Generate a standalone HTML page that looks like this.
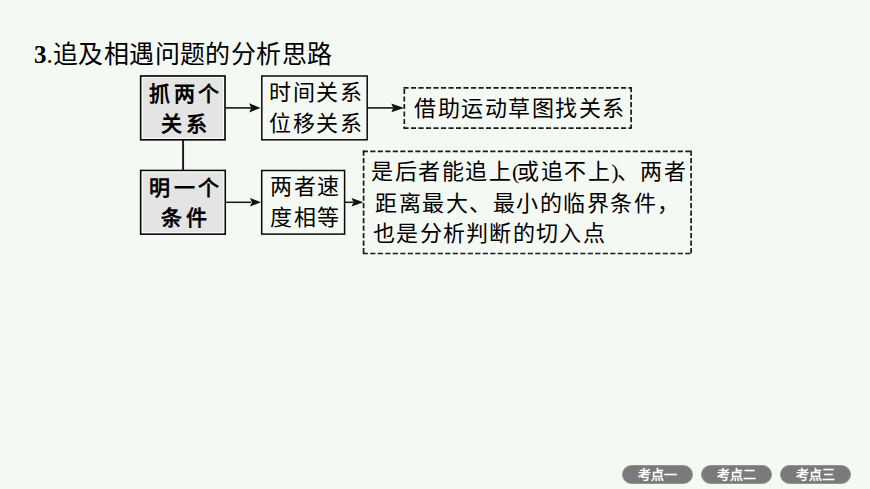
<!DOCTYPE html>
<html lang="zh-CN">
<head>
<meta charset="utf-8">
<style>
html,body{margin:0;padding:0;}
body{width:870px;height:489px;overflow:hidden;background:#f5f9f4;position:relative;font-family:"Liberation Sans",sans-serif;color:#000;}
.abs{position:absolute;white-space:nowrap;}
.title{left:34px;top:37px;font-size:25px;line-height:34px;letter-spacing:0.45px;}
.title b{font-family:"Liberation Serif",serif;font-weight:bold;font-size:25px;letter-spacing:0;position:relative;top:-0.5px;}
.title .dot{font-family:"Liberation Serif",serif;font-size:25px;letter-spacing:0;}
.txt{position:absolute;white-space:nowrap;font-size:22px;line-height:30px;letter-spacing:1.5px;}
.bold{font-weight:bold;font-size:21px;letter-spacing:3.5px;}
.paren{font-family:"Liberation Serif",serif;letter-spacing:-2px;}
.pill{position:absolute;top:464.5px;width:71px;height:19px;box-sizing:border-box;border-radius:9.5px;background:#7a7a7a;border:1px solid #939393;color:#fff;font-weight:bold;font-size:13px;line-height:17px;text-align:center;}
svg{position:absolute;left:0;top:0;}
</style>
</head>
<body>
<svg width="870" height="489">
  <g stroke="#0a0a0a" stroke-width="1.7">
    <rect x="140.7" y="76" width="84.3" height="63.8" fill="#e4e4e4"/>
    <rect x="261.8" y="76" width="105.4" height="63.8" fill="none" stroke-width="1.5"/>
    <rect x="140.7" y="170.5" width="84.5" height="63.6" fill="#e4e4e4"/>
    <rect x="261.7" y="170.5" width="82.9" height="63.6" fill="none" stroke-width="1.5"/>
  </g>
  <g stroke="#fafafa" stroke-width="1.1" fill="none">
    <rect x="142.4" y="77.5" width="81.1" height="60.8"/>
    <rect x="142.4" y="172" width="81.3" height="60.6"/>
  </g>
  <g stroke="#161616" fill="none">
    <line x1="183.1" y1="140" x2="183.1" y2="170" stroke-width="1.9"/>
    <line x1="225" y1="107.9" x2="251" y2="107.9" stroke-width="1.6"/>
    <line x1="367" y1="107.9" x2="393" y2="107.9" stroke-width="1.6"/>
    <line x1="225" y1="202.3" x2="251" y2="202.3" stroke-width="1.5"/>
    <line x1="345" y1="202.3" x2="353" y2="202.3" stroke-width="1.5"/>
  </g>
  <g fill="#111">
    <path d="M260.6 107.9 L249.2 103.3 L251.2 107.9 L249.2 112.5 Z"/>
    <path d="M404 107.9 L391.3 103.4 L393.3 107.9 L391.3 112.3 Z"/>
    <path d="M261 202.3 L249.9 198 L251.9 202.3 L249.9 206.6 Z"/>
    <path d="M363.4 202.3 L351.5 198 L353.5 202.3 L351.5 206.6 Z"/>
  </g>
  <g stroke="#1a1a1a" stroke-width="1.7" fill="none" stroke-dasharray="5.1 2.4">
    <line x1="403.5" y1="87.9" x2="631.5" y2="87.9"/>
    <line x1="404.3" y1="89" x2="404.3" y2="128.5"/>
    <line x1="631.1" y1="87.1" x2="631.1" y2="128.5"/>
    <line x1="403.5" y1="128.1" x2="631.5" y2="128.1"/>
    <line x1="362.8" y1="151.4" x2="692" y2="151.4"/>
    <line x1="363.6" y1="150.6" x2="363.6" y2="254"/>
    <line x1="691.1" y1="150.6" x2="691.1" y2="254"/>
    <line x1="362.8" y1="253.5" x2="692" y2="253.5"/>
  </g>
</svg>

<div class="abs title"><b>3</b><span class="dot">.</span>追及相遇问题的分析思路</div>

<div class="txt bold" style="left:149px;top:79px;">抓两个</div>
<div class="txt bold" style="left:161px;top:109px;">关系</div>
<div class="txt bold" style="left:149px;top:173px;">明一个</div>
<div class="txt bold" style="left:161px;top:203px;">条件</div>

<div class="txt" style="left:269px;top:78px;">时间关系</div>
<div class="txt" style="left:269px;top:109px;">位移关系</div>
<div class="txt" style="left:270px;top:172px;">两者速</div>
<div class="txt" style="left:270px;top:203px;">度相等</div>

<div class="txt" style="left:414px;top:93.7px;">借助运动草图找关系</div>

<div class="txt" style="left:371px;top:157px;">是后者能追上<span class="paren">(</span>或追不上<span class="paren">)</span>、两者</div>
<div class="txt" style="left:375px;top:188.7px;">距离最大、最小的临界条件，</div>
<div class="txt" style="left:373px;top:218.8px;letter-spacing:1.3px;">也是分析判断的切入点</div>

<div class="pill" style="left:622px;">考点一</div>
<div class="pill" style="left:701px;">考点二</div>
<div class="pill" style="left:780px;">考点三</div>
</body>
</html>
